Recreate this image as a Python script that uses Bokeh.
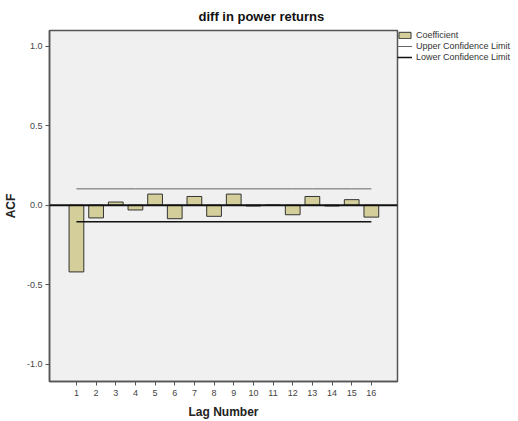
from bokeh.plotting import figure
from bokeh.models import (ColumnDataSource, Legend, LegendItem, FixedTicker, Title, Range1d, Span,
                          CustomJSTickFormatter)
from bokeh.embed import file_html
from bokeh.resources import INLINE

lags = list(range(1, 17))
acf = [-0.42, -0.08, 0.02, -0.03, 0.07, -0.085, 0.055, -0.07, 0.07, -0.005, 0.0, -0.06, 0.055, -0.005, 0.035, -0.075]
upper = [0.103] * 16
lower = [-0.104] * 16
y_ticks = [-1.0, -0.5, 0.0, 0.5, 1.0]

FONT = "Liberation Sans"

p = figure(frame_width=348, frame_height=351, output_backend="svg", toolbar_location=None,
           x_range=Range1d(-0.37, 17.33), y_range=Range1d(-1.11, 1.10),
           min_border_left=41, min_border_top=30, min_border_right=2, min_border_bottom=30)
p.background_fill_color = "#f0f0f0"
p.border_fill_color = "white"
p.outline_line_color = "#555555"
p.outline_line_width = 1.5
p.grid.visible = False

src = ColumnDataSource(dict(lag=lags, acf=acf, upper=upper, lower=lower))
bars = p.vbar(x="lag", top="acf", bottom=0, width=0.75, source=src,
              fill_color="#d4cf9a", line_color="#333333", line_width=1)
zero = Span(location=0, dimension="width", line_color="#111111", line_width=2)
p.add_layout(zero)
up = p.line(x="lag", y="upper", source=src, line_color="#666666", line_width=1)
lo = p.line(x="lag", y="lower", source=src, line_color="#111111", line_width=1.5)

p.xaxis.ticker = FixedTicker(ticks=lags)
p.yaxis.ticker = FixedTicker(ticks=y_ticks)
p.xaxis.minor_tick_line_color = None
p.yaxis.minor_tick_line_color = None
for ax in (p.xaxis[0], p.yaxis[0]):
    ax.axis_line_color = "#555555"
    ax.axis_line_width = 1.5
    ax.major_tick_line_color = "#555555"
    ax.major_tick_in = 0
    ax.major_tick_out = 4
    ax.major_label_text_font = FONT
    ax.major_label_text_font_size = "9px"
    ax.major_label_text_color = "#444444"
    ax.axis_label_text_font = FONT
    ax.axis_label_text_font_style = "bold"
    ax.axis_label_text_font_size = "12px"
    ax.axis_label_text_color = "#222222"
p.xaxis.axis_label = "Lag Number"
p.yaxis.axis_label = "ACF"
p.xaxis.major_label_standoff = 4
p.xaxis.axis_label_standoff = 6
p.yaxis.major_label_standoff = 3
p.yaxis.axis_label_standoff = 6
p.yaxis.formatter = CustomJSTickFormatter(code="return tick.toFixed(1);")

p.title = Title(text="diff in power returns", align="left", offset=149,
                text_font=FONT, text_font_size="13px", text_font_style="bold",
                text_color="#111111", standoff=13, text_line_height=1.0)

legend = Legend(items=[LegendItem(label="Coefficient", renderers=[bars]),
                       LegendItem(label="Upper Confidence Limit", renderers=[up]),
                       LegendItem(label="Lower Confidence Limit", renderers=[lo])],
                location="top_left", label_text_font=FONT, label_text_font_size="9px",
                label_text_color="#333333", glyph_width=15, glyph_height=8,
                label_height=8, spacing=1, padding=0, margin=0,
                border_line_color=None, background_fill_alpha=0,
                label_standoff=4)
p.add_layout(legend, "right")

open("out.html", "w").write(file_html(p, INLINE))
